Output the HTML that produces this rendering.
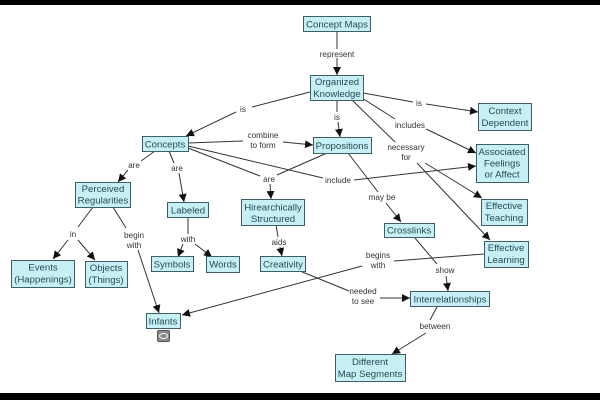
<!DOCTYPE html>
<html><head><meta charset="utf-8"><style>
html,body{margin:0;padding:0;background:#fff;}
svg{display:block;}
.n{fill:#c8f0f4;stroke:#3f5f66;stroke-width:1;}
.t{font-family:"Liberation Sans",sans-serif;font-size:9.6px;fill:#1f4a58;text-anchor:middle;}
.l{font-family:"Liberation Sans",sans-serif;font-size:8.2px;fill:#333;text-anchor:middle;}
.e{stroke:#333;stroke-width:1;fill:none;}
.a{stroke:#333;stroke-width:1;fill:none;marker-end:url(#ar);}
</style></head><body>
<svg width="600" height="400" viewBox="0 0 600 400" xmlns="http://www.w3.org/2000/svg">
<defs>
<marker id="ar" viewBox="0 0 10 10" refX="10" refY="5" markerWidth="8" markerHeight="8" markerUnits="userSpaceOnUse" orient="auto">
<path d="M0,0 L10,5 L0,10 z" fill="#111"/>
</marker>
</defs>
<rect x="0" y="0" width="600" height="400" fill="#fff"/>
<rect x="0" y="0" width="600" height="5" fill="#000"/>
<rect x="0" y="393" width="600" height="7" fill="#000"/>

<!-- edges -->
<path class="e" d="M337,31 L337,49"/>
<path class="a" d="M337,58 L337,75"/>
<path class="e" d="M310,92 L252,107"/>
<path class="a" d="M236,112 L186,136"/>
<path class="e" d="M337,100 L337,112"/>
<path class="a" d="M338,122 L340,137"/>
<path class="e" d="M363,93 L413,102"/>
<path class="a" d="M426,104 L478,112"/>
<path class="e" d="M362,98 L395,119"/>
<path class="a" d="M426,129 L476,153"/>
<path class="e" d="M352,100 L395,142"/>
<path class="a" d="M425,163 L482,198"/>
<path class="a" d="M417,163 L490,240"/>
<path class="e" d="M188,143 L243,141"/>
<path class="a" d="M283,142 L313,145"/>
<path class="e" d="M155,151 L141,161"/>
<path class="a" d="M128,170 L118,182"/>
<path class="e" d="M169,151 L174,163"/>
<path class="a" d="M179,173 L184,202"/>
<path class="e" d="M188,148 L260,176"/>
<path class="e" d="M327,153 L277,175"/>
<path class="a" d="M270,184 L271,199"/>
<path class="e" d="M188,146 L323,178"/>
<path class="a" d="M354,180 L476,166"/>
<path class="e" d="M348,153 L378,192"/>
<path class="a" d="M386,203 L401,222"/>
<path class="e" d="M93,207 L78,227"/>
<path class="a" d="M68,240 L53,259"/>
<path class="a" d="M78,240 L95,260"/>
<path class="e" d="M113,207 L126,228"/>
<path class="a" d="M138,250 L159,313"/>
<path class="e" d="M188,217 L188,234"/>
<path class="a" d="M183,244 L178,257"/>
<path class="a" d="M195,244 L212,257"/>
<path class="e" d="M276,225 L278,237"/>
<path class="a" d="M280,247 L282,256"/>
<path class="e" d="M300,271 L349,291"/>
<path class="a" d="M380,298 L410,298"/>
<path class="e" d="M484,254 L394,261"/>
<path class="a" d="M362,266 L182,315"/>
<path class="e" d="M415,238 L437,264"/>
<path class="a" d="M446,276 L448,291"/>
<path class="e" d="M437,307 L430,320"/>
<path class="a" d="M426,333 L392,354"/>

<!-- labels -->
<text class="l" x="337" y="57">represent</text>
<text class="l" x="243" y="112">is</text>
<text class="l" x="337" y="120">is</text>
<text class="l" x="419" y="106">is</text>
<text class="l" x="410" y="128">includes</text>
<text class="l" x="406" y="150">necessary</text>
<text class="l" x="406" y="160">for</text>
<text class="l" x="263" y="138">combine</text>
<text class="l" x="263" y="148">to form</text>
<text class="l" x="134" y="168">are</text>
<text class="l" x="177" y="171">are</text>
<text class="l" x="269" y="182">are</text>
<text class="l" x="338" y="183">include</text>
<text class="l" x="382" y="200">may be</text>
<text class="l" x="73" y="237">in</text>
<text class="l" x="134" y="238">begin</text>
<text class="l" x="134" y="248">with</text>
<text class="l" x="188" y="242">with</text>
<text class="l" x="279" y="245">aids</text>
<text class="l" x="378" y="258">begins</text>
<text class="l" x="378" y="268">with</text>
<text class="l" x="445" y="273">show</text>
<text class="l" x="363" y="294">needed</text>
<text class="l" x="363" y="304">to see</text>
<text class="l" x="435" y="329">between</text>

<!-- nodes -->
<rect class="n" x="303.5" y="16.5" width="67" height="15"/>
<text class="t" x="337" y="27.5">Concept Maps</text>

<rect class="n" x="310.5" y="75.5" width="53" height="25"/>
<text class="t" x="337" y="85">Organized</text>
<text class="t" x="337" y="97">Knowledge</text>

<rect class="n" x="478.5" y="103.5" width="53" height="27"/>
<text class="t" x="505" y="114">Context</text>
<text class="t" x="505" y="126">Dependent</text>

<rect class="n" x="313.5" y="137.5" width="58" height="16"/>
<text class="t" x="342" y="149">Propositions</text>

<rect class="n" x="476.5" y="144.5" width="52" height="38"/>
<text class="t" x="502" y="155">Associated</text>
<text class="t" x="502" y="166.5">Feelings</text>
<text class="t" x="502" y="177.5">or Affect</text>

<rect class="n" x="142.5" y="136.5" width="46" height="15"/>
<text class="t" x="165" y="147.5">Concepts</text>

<rect class="n" x="75.5" y="182.5" width="55" height="25"/>
<text class="t" x="103" y="192">Perceived</text>
<text class="t" x="103" y="203.5">Regularities</text>

<rect class="n" x="167.5" y="202.5" width="41" height="15"/>
<text class="t" x="188" y="213.5">Labeled</text>

<rect class="n" x="241.5" y="199.5" width="63" height="26"/>
<text class="t" x="273" y="210.5">Hirearchically</text>
<text class="t" x="273" y="222">Structured</text>

<rect class="n" x="151.5" y="256.5" width="42" height="15"/>
<text class="t" x="172" y="267.5">Symbols</text>

<rect class="n" x="206.5" y="256.5" width="33" height="16"/>
<text class="t" x="223" y="267.5">Words</text>

<rect class="n" x="260.5" y="256.5" width="45" height="15"/>
<text class="t" x="283" y="267.5">Creativity</text>

<rect class="n" x="11.5" y="260.5" width="63" height="27"/>
<text class="t" x="43" y="270.5">Events</text>
<text class="t" x="43" y="282.5">(Happenings)</text>

<rect class="n" x="85.5" y="261.5" width="42" height="26"/>
<text class="t" x="106" y="271">Objects</text>
<text class="t" x="106" y="283">(Things)</text>

<rect class="n" x="146.5" y="313.5" width="34" height="15"/>
<text class="t" x="163" y="324.5">Infants</text>
<rect x="157.5" y="330.5" width="12" height="11" rx="1.5" fill="#8a8a8a" stroke="#555" stroke-width="1"/>
<ellipse cx="163.5" cy="336" rx="4" ry="2.5" fill="none" stroke="#fff" stroke-width="1"/>

<rect class="n" x="481.5" y="199.5" width="46" height="26"/>
<text class="t" x="504" y="209">Effective</text>
<text class="t" x="504" y="221">Teaching</text>

<rect class="n" x="384.5" y="223.5" width="50" height="14"/>
<text class="t" x="409" y="233.5">Crosslinks</text>

<rect class="n" x="484.5" y="241.5" width="44" height="26"/>
<text class="t" x="506" y="251">Effective</text>
<text class="t" x="506" y="263">Learning</text>

<rect class="n" x="410.5" y="291.5" width="79" height="15"/>
<text class="t" x="450" y="302.5">Interrelationships</text>

<rect class="n" x="335.5" y="354.5" width="70" height="27"/>
<text class="t" x="370" y="365">Different</text>
<text class="t" x="370" y="377">Map Segments</text>
</svg>
</body></html>
